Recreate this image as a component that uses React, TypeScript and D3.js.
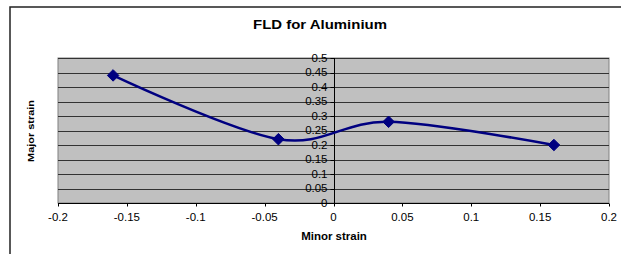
import React, { useEffect, useRef } from 'react';
import * as d3 from 'd3';

// Minor strain (x) and major strain (y) for each measured point
const minorStrain = [-0.16, -0.04, 0.04, 0.16];
const majorStrain = [0.44, 0.22, 0.28, 0.2];

// Axis ticks
const xTicks = [-0.2, -0.15, -0.1, -0.05, 0, 0.05, 0.1, 0.15, 0.2];
const yTicks = [0, 0.05, 0.1, 0.15, 0.2, 0.25, 0.3, 0.35, 0.4, 0.45, 0.5];

const App = () => {
  const chartRef = useRef<SVGSVGElement | null>(null);

  useEffect(() => {
    const width = 621;
    const height = 254;
    const plot = { left: 58, right: 609, top: 58, bottom: 203 };
    const font = 'Liberation Sans, Arial, sans-serif';
    const stretch = 1.15; // text in the picture is a little wider than tall

    const svg = d3.select(chartRef.current);
    svg.selectAll('*').remove();
    svg.attr('width', width).attr('height', height);

    // white background and outer chart border (runs off right and bottom)
    svg.append('rect').attr('width', width).attr('height', height).attr('fill', 'white');
    svg.append('rect')
      .attr('x', 10).attr('y', 7)
      .attr('width', width + 20).attr('height', height + 20)
      .attr('fill', 'none').attr('stroke', '#222').attr('stroke-width', 1.5);

    const x = d3.scaleLinear().domain([-0.2, 0.2]).range([plot.left, plot.right]);
    const y = d3.scaleLinear().domain([0, 0.5]).range([plot.bottom, plot.top]);

    // grey plot area
    svg.append('rect')
      .attr('x', plot.left).attr('y', plot.top)
      .attr('width', plot.right - plot.left).attr('height', plot.bottom - plot.top)
      .attr('fill', '#c0c0c0').attr('stroke', '#808080').attr('stroke-width', 1);

    // horizontal gridlines
    svg.selectAll('.grid')
      .data(yTicks.filter(d => d > 0))
      .enter()
      .append('line')
      .attr('class', 'grid')
      .attr('x1', plot.left).attr('x2', plot.right)
      .attr('y1', d => Math.round(y(d)) + 0.5).attr('y2', d => Math.round(y(d)) + 0.5)
      .attr('stroke', '#333').attr('stroke-width', 1);

    // x axis line + ticks
    const xAxisY = Math.round(y(0)) + 0.5;
    svg.append('line')
      .attr('x1', plot.left).attr('x2', plot.right)
      .attr('y1', xAxisY).attr('y2', xAxisY)
      .attr('stroke', 'black');
    svg.selectAll('.xtick')
      .data(xTicks)
      .enter()
      .append('line')
      .attr('x1', d => Math.round(x(d)) + 0.5).attr('x2', d => Math.round(x(d)) + 0.5)
      .attr('y1', xAxisY).attr('y2', xAxisY + 3)
      .attr('stroke', 'black');
    svg.selectAll('.xlabel')
      .data(xTicks)
      .enter()
      .append('text')
      .attr('transform', d => `translate(${x(d)},${221}) scale(${stretch},1)`)
      .attr('text-anchor', 'middle')
      .attr('font-family', font).attr('font-size', 10)
      .text(d => String(d));

    // y axis at x = 0
    const yAxisX = Math.round(x(0)) + 0.5;
    svg.append('line')
      .attr('x1', yAxisX).attr('x2', yAxisX)
      .attr('y1', plot.top).attr('y2', plot.bottom)
      .attr('stroke', 'black');
    svg.selectAll('.ytick')
      .data(yTicks)
      .enter()
      .append('line')
      .attr('x1', yAxisX - 4).attr('x2', yAxisX)
      .attr('y1', d => Math.round(y(d)) + 0.5).attr('y2', d => Math.round(y(d)) + 0.5)
      .attr('stroke', 'black');
    svg.selectAll('.ylabel')
      .data(yTicks)
      .enter()
      .append('text')
      .attr('transform', d => `translate(${yAxisX - 7},${y(d) + 3.5}) scale(${stretch},1)`)
      .attr('text-anchor', 'end')
      .attr('font-family', font).attr('font-size', 10)
      .text(d => String(d));

    // smoothed series line (Excel-style smoothing)
    const pts: [number, number][] = minorStrain.map((d, i) => [x(d), y(majorStrain[i])]);
    const line = d3.line().curve(d3.curveCardinal.tension(0));
    svg.append('path')
      .attr('d', line(pts))
      .attr('fill', 'none')
      .attr('stroke', '#000080')
      .attr('stroke-width', 2.5);

    // diamond markers
    svg.selectAll('.marker')
      .data(pts)
      .enter()
      .append('path')
      .attr('d', d3.symbol().type(d3.symbolDiamond2).size(85)())
      .attr('transform', d => `translate(${d[0]},${d[1]})`)
      .attr('fill', '#000080')
      .attr('stroke', '#000080');

    // titles
    svg.append('text')
      .attr('transform', `translate(320,${29}) scale(${stretch},1)`)
      .attr('text-anchor', 'middle')
      .attr('font-family', font).attr('font-size', 13).attr('font-weight', 'bold')
      .text('FLD for Aluminium');
    svg.append('text')
      .attr('transform', `translate(334,${240}) scale(${stretch},1)`)
      .attr('text-anchor', 'middle')
      .attr('font-family', font).attr('font-size', 10).attr('font-weight', 'bold')
      .text('Minor strain');
    svg.append('text')
      .attr('transform', `translate(34,131) rotate(-90) scale(${stretch},1)`)
      .attr('text-anchor', 'middle')
      .attr('font-family', font).attr('font-size', 9.5).attr('font-weight', 'bold')
      .text('Major strain');
  }, []);

  return (
    <svg ref={chartRef} style={{ position: 'absolute', left: 0, top: 0, display: 'block' }}></svg>
  );
};

export default App;
